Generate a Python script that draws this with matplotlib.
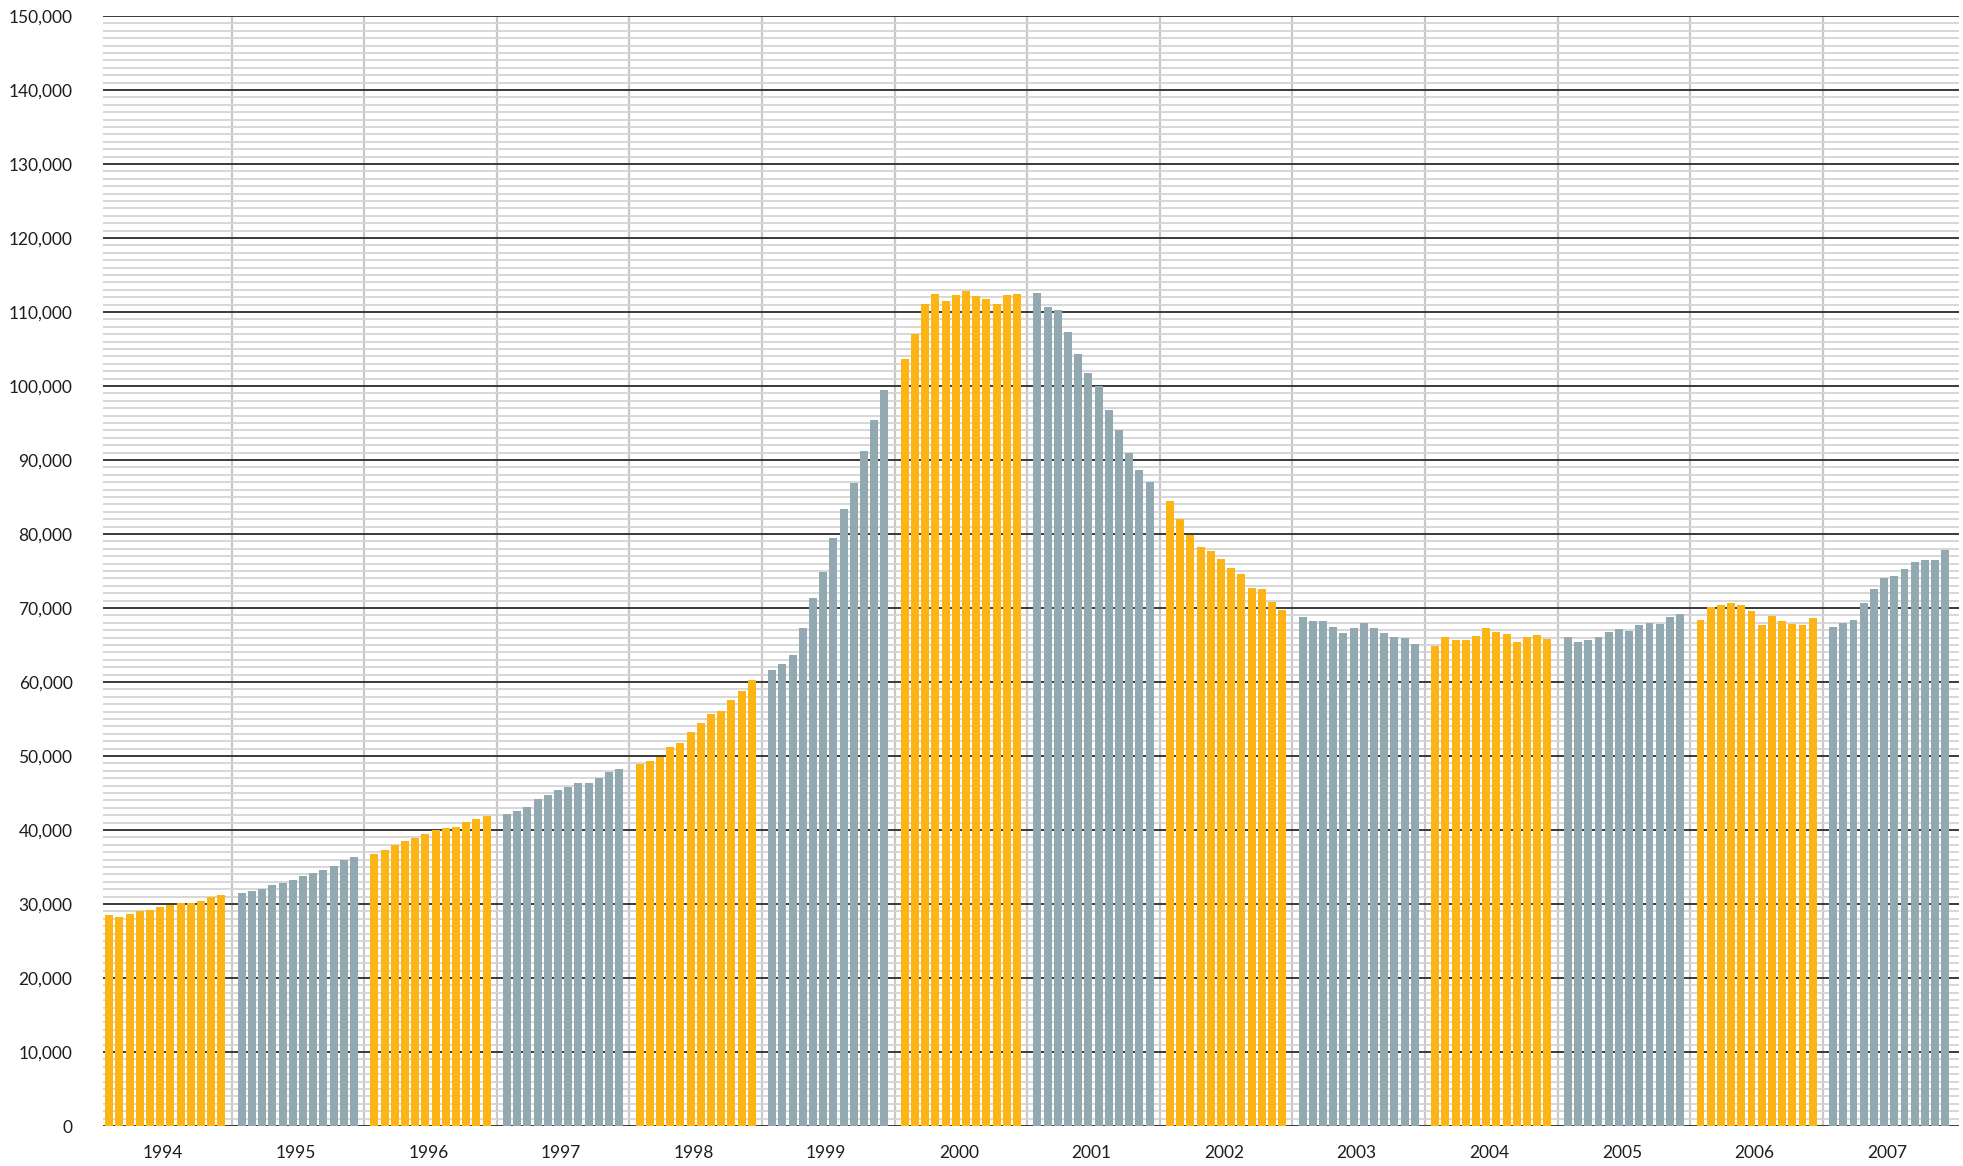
import numpy as np
import matplotlib.pyplot as plt
from matplotlib.ticker import FuncFormatter, MultipleLocator

years = [str(y) for y in range(1994, 2008)]

# monthly values, one list per year
values = [
    [28475, 28300, 28600, 29000, 29150, 29550, 29870, 30100, 30200, 30360, 31000, 31170],
    [31430, 31700, 31970, 32500, 32780, 33300, 33720, 34130, 34530, 35200, 36000, 36400],
    [36700, 37340, 38000, 38560, 38960, 39500, 40050, 40300, 40450, 41130, 41530, 41940],
    [42200, 42600, 43150, 44230, 44770, 45450, 45860, 46400, 46400, 47070, 47880, 48290],
    [48970, 49330, 49870, 51200, 51750, 53230, 54440, 55650, 56050, 57530, 58740, 60220],
    [61570, 62380, 63590, 67350, 71390, 74890, 79460, 83360, 86860, 91170, 95470, 99500],
    [103680, 107000, 111030, 112380, 111430, 112240, 112780, 112100, 111700, 111030, 112240, 112380],
    [112500, 110630, 110220, 107260, 104300, 101750, 100040, 96770, 94080, 90990, 88700, 87090],
    [84440, 82020, 79870, 78250, 77710, 76640, 75430, 74620, 72740, 72600, 70850, 69780],
    [68830, 68300, 68300, 67490, 66680, 67350, 68030, 67350, 66680, 66140, 66000, 65070],
    [64800, 66140, 65740, 65740, 66280, 67350, 66820, 66550, 65470, 66140, 66410, 65870],
    [66140, 65470, 65740, 66140, 66820, 67220, 66950, 67760, 68030, 67900, 68830, 69240],
    [68430, 70180, 70450, 70720, 70450, 69640, 67760, 68970, 68300, 67900, 67760, 68700],
    [67440, 67980, 68390, 70670, 72560, 74040, 74300, 75250, 76190, 76460, 76460, 77800],
]

orange = '#fdb515'
grey = '#93a9b1'

plt.rcParams['font.family'] = ['Lato', 'DejaVu Sans']

fig = plt.figure(figsize=(19.63, 11.66), dpi=100)
ax = fig.add_axes([0.0525, 0.0343, 0.9455, 0.952])

slot = 13  # 12 months plus one empty slot between years
for i, vals in enumerate(values):
    x = i * slot + 1 + np.arange(12)
    color = orange if i % 2 == 0 else grey
    ax.bar(x, vals, width=0.78, color=color, zorder=3)

n = len(values)
ax.set_xlim(0.4, n * slot + 0.35)
ax.set_ylim(0, 150000)

# grid
ax.yaxis.set_major_locator(MultipleLocator(10000))
ax.yaxis.set_minor_locator(MultipleLocator(1000))
ax.grid(axis='y', which='minor', color='#d4d4d4', linewidth=1.3, zorder=1)
ax.grid(axis='y', which='major', color='#3a3a3a', linewidth=1.4, zorder=2)
for i in range(1, n):
    ax.axvline(i * slot, color='#c8c8c8', linewidth=1.6, zorder=1.5)

ax.yaxis.set_major_formatter(FuncFormatter(lambda v, p: f'{int(v):,}'))
ax.set_xticks([i * slot + 6.3 for i in range(n)])
ax.set_xticklabels(years)

ax.tick_params(axis='both', which='both', length=0, labelsize=12.5, colors='#1e1e1e')
ax.tick_params(axis='y', pad=22)
ax.tick_params(axis='x', pad=14)

for s in ax.spines.values():
    s.set_visible(False)

fig.savefig('out.png', dpi=100)
